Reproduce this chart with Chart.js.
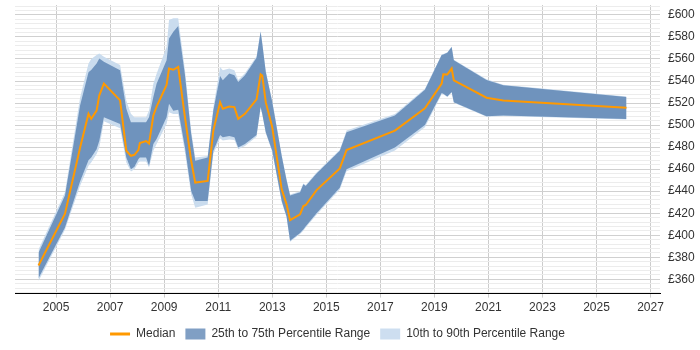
<!DOCTYPE html>
<html>
<head>
<meta charset="utf-8">
<script src="https://cdn.jsdelivr.net/npm/chart.js"></script>
<style>
  html, body { margin: 0; padding: 0; background: #fff; }
  #wrap { width: 700px; height: 350px; }
</style>
</head>
<body>
<div id="wrap"><canvas id="rateChart"></canvas></div>
<script>
// ---- data (decimal years, £ per day) ----
const years = [2004.35, 2005.33, 2005.89, 2006.2, 2006.3, 2006.5, 2006.6, 2006.77, 2007.37, 2007.6,
  2007.77, 2007.9, 2008.05, 2008.1, 2008.33, 2008.44, 2008.6, 2008.72, 2009.09, 2009.18,
  2009.34, 2009.52, 2009.77, 2010.0, 2010.15, 2010.61, 2010.82, 2011.07, 2011.17, 2011.41,
  2011.6, 2011.74, 2011.99, 2012.42, 2012.57, 2012.63, 2012.76, 2013.0, 2013.35, 2013.53,
  2013.66, 2014.03, 2014.15, 2014.24, 2014.64, 2015.5, 2015.75, 2017.54, 2018.65, 2019.27,
  2019.33, 2019.48, 2019.64, 2019.72, 2020.93, 2021.55, 2026.11];

const median = [372.5, 419.5, 479.7, 510.2, 505.6, 513.2, 527, 537.6, 522.4, 476.7,
  472.1, 473, 477.5, 483.7, 485.5, 483.2, 508.7, 516.8, 536.5, 551.3,
  550.2, 552.8, 507, 467.6, 447.8, 449.3, 495, 520.8, 514.8, 516.9,
  516.3, 505.6, 510.2, 523.3, 546.1, 545, 520.8, 498, 441.7, 428,
  413.7, 418.9, 426.5, 427.4, 441, 460.6, 477.3, 495, 515.3, 537.6,
  546.1, 546, 551.3, 540.6, 524.8, 522.4, 515.7];

const p25 = [361, 407, 449, 468, 470.6, 478, 485.8, 507, 501, 470.6,
  460, 462.1, 469.1, 470.6, 470.6, 463, 482.8, 487.4, 507.1, 519.4,
  513, 514, 479.7, 440.2, 431, 431, 476.7, 491, 489, 490,
  489, 479.7, 482.8, 491, 516.3, 510.2, 493.5, 476.7, 431, 417,
  395, 402, 405.2, 408.2, 420, 443.2, 460, 479.7, 500, 529,
  528.5, 526, 530, 520.8, 508, 508.7, 505.6];

const p75 = [384, 436, 518, 548, 550, 556, 560.4, 557.4, 549.8, 514.8,
  502.6, 502.6, 502.6, 502.6, 502.6, 507.1, 525.4, 537.6, 558.9, 578.7,
  584.8, 590, 545.5, 492, 467.6, 470.6, 513.2, 544.5, 540.6, 546.8,
  545.2, 539.1, 545.2, 561, 584.8, 574.1, 548.2, 521, 472, 450,
  436, 439, 446.3, 444.7, 456, 476.7, 493.5, 508.7, 532, 563.5,
  564, 565.6, 570.8, 558.9, 541, 536.1, 525.4];

const p10 = [358.5, 405, 445, 463, 466, 473.7, 479.7, 503.5, 497, 466,
  457.8, 460, 466, 467, 467, 461.5, 476.7, 482.8, 501.1, 511.7,
  510, 510, 475, 437, 425, 428, 473.7, 488, 486, 487,
  486.5, 478, 481, 489.5, 515.5, 509.5, 492.5, 475.5, 430, 416,
  394, 401, 404, 407, 418.5, 441.5, 458, 477, 498, 528,
  528, 525.5, 529.5, 520.3, 507.5, 508.2, 505.1];

const p90 = [387, 439, 525, 556, 560, 563.5, 565, 562, 554.5, 522.4,
  510.2, 507, 507, 507, 507, 513.2, 537.6, 546.7, 571, 595.4,
  597, 597, 550, 495, 470.6, 472, 516, 552.8, 549.8, 551.3,
  549.8, 541, 547, 562.5, 585.5, 575, 549, 522, 473, 451,
  437, 440, 447, 445.5, 457, 477.5, 495, 510, 533, 564,
  564.5, 566, 571.3, 559.4, 541.5, 536.6, 525.9];

const yearTicks = [2005, 2007, 2009, 2011, 2013, 2015, 2017, 2019, 2021, 2023, 2025, 2027];

const pts = arr => arr.map((v, i) => ({ x: years[i], y: v }));

// legend swatches are a touch paler than the bands themselves
const legendFill = {
    '25th to 75th Percentile Range': '#809fc4',
    '10th to 90th Percentile Range': '#cddef0'
};

const ctx = document.getElementById('rateChart').getContext('2d');

new Chart(ctx, {
    type: 'line',
    data: {
        datasets: [
            {
                label: 'Median',
                data: pts(median),
                borderColor: '#ff9900',
                backgroundColor: '#ff9900',
                borderWidth: 2,
                pointRadius: 0,
                fill: false,
                pointStyle: 'line'
            },
            {
                label: '25th to 75th Percentile Range',
                data: pts(p75),
                borderWidth: 0,
                borderColor: 'rgba(0,0,0,0)',
                backgroundColor: '#6f93bd',
                pointRadius: 0,
                fill: '+1',
                pointStyle: 'rect'
            },
            {
                label: 'p25',
                data: pts(p25),
                borderWidth: 0,
                borderColor: 'rgba(0,0,0,0)',
                pointRadius: 0,
                fill: false
            },
            {
                label: '10th to 90th Percentile Range',
                data: pts(p90),
                borderWidth: 0,
                borderColor: 'rgba(0,0,0,0)',
                backgroundColor: '#cadcee',
                pointRadius: 0,
                fill: '+1',
                pointStyle: 'rect'
            },
            {
                label: 'p10',
                data: pts(p10),
                borderWidth: 0,
                borderColor: 'rgba(0,0,0,0)',
                pointRadius: 0,
                fill: false
            }
        ]
    },
    options: {
        responsive: true,
        maintainAspectRatio: false,
        animation: false,
        layout: { padding: { left: 15, right: 0, top: 5, bottom: 0 } },
        elements: { line: { tension: 0 } },
        scales: {
            x: {
                type: 'linear',
                min: 2003.48,
                max: 2027.35,
                afterBuildTicks: axis => { axis.ticks = yearTicks.map(v => ({ value: v })); },
                ticks: {
                    autoSkip: false,
                    maxRotation: 0,
                    padding: 3,
                    color: '#333',
                    font: { family: "'Liberation Sans', Arial, sans-serif", size: 12 },
                    callback: v => String(v)
                },
                grid: { color: '#cccccc', tickLength: 4 },
                border: { color: '#000000', width: 1 }
            },
            y: {
                position: 'right',
                min: 347,
                max: 609,
                afterBuildTicks: axis => {
                    const t = [];
                    for (let v = 348; v <= 608; v += 4) t.push({ value: v });
                    axis.ticks = t;
                },
                afterFit: axis => {
                    axis.width = 40;
                    axis.paddingTop = 0;
                    axis.paddingBottom = 0;
                },
                ticks: {
                    autoSkip: false,
                    padding: 8,
                    color: '#333',
                    font: { family: "'Liberation Sans', Arial, sans-serif", size: 12 },
                    callback: v => (v % 20 === 0 ? '£' + v : '')
                },
                grid: {
                    drawTicks: false,
                    color: c => (c.tick && c.tick.value % 20 === 0 ? '#d0d0d0' : '#ececec')
                },
                border: { display: false }
            }
        },
        plugins: {
            legend: {
                position: 'bottom',
                fullSize: false,
                labels: {
                    usePointStyle: true,
                    pointStyleWidth: 20,
                    boxHeight: 11,
                    padding: 10,
                    color: '#333',
                    font: { family: "'Liberation Sans', Arial, sans-serif", size: 12 },
                    filter: item => item.text !== 'p25' && item.text !== 'p10',
                    generateLabels: chart => {
                        const items = Chart.defaults.plugins.legend.labels.generateLabels(chart);
                        items.forEach(it => {
                            if (it.text === 'Median') it.lineWidth = 3;
                            if (legendFill[it.text]) it.fillStyle = legendFill[it.text];
                        });
                        return items;
                    }
                }
            },
            tooltip: { enabled: false }
        }
    }
});
</script>
</body>
</html>
